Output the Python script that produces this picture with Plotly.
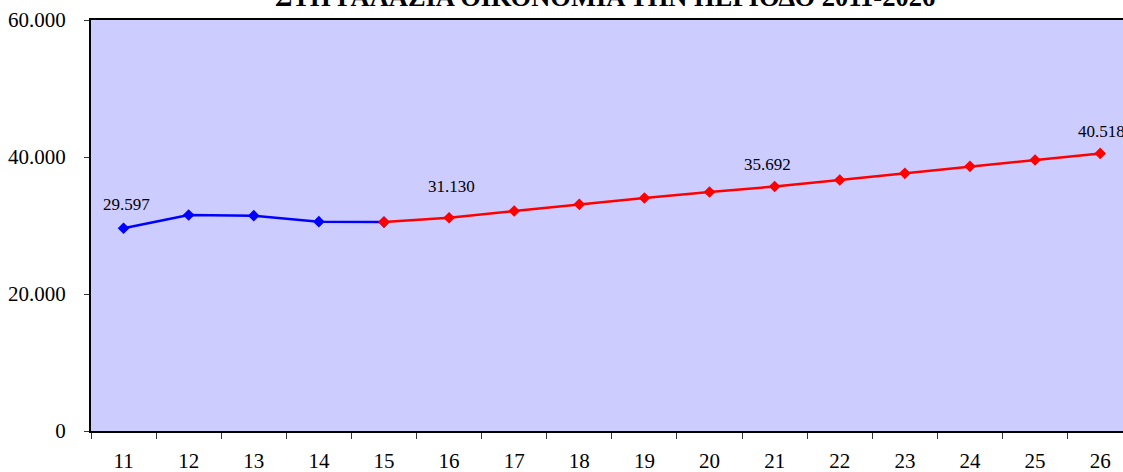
import plotly.graph_objects as go

years = ["11", "12", "13", "14", "15", "16", "17", "18", "19", "20", "21", "22", "23", "24", "25", "26"]
actual_years = ["11", "12", "13", "14", "15"]
actual_values = [29597, 31533, 31430, 30555, 30500]
forecast_years = ["15", "16", "17", "18", "19", "20", "21", "22", "23", "24", "25", "26"]
forecast_values = [30500, 31130, 32117, 33094, 34015, 34891, 35692, 36642, 37620, 38642, 39562, 40518]
labelled = [("11", 29597), ("16", 31130), ("21", 35692), ("26", 40518)]
y_ticks = [0, 20000, 40000, 60000]
title_text = "ΣΤΗ ΓΑΛΑΖΙΑ ΟΙΚΟΝΟΜΙΑ ΤΗΝ ΠΕΡΙΟΔΟ 2011-2026"

SERIF = "Liberation Serif, Times New Roman, serif"

fig = go.Figure()
fig.add_trace(go.Scatter(
    x=actual_years, y=actual_values, mode="lines+markers",
    line=dict(color="#0000FF", width=2.5),
    marker=dict(symbol="diamond", size=9, color="#0000FF"),
    showlegend=False, hoverinfo="skip"))
fig.add_trace(go.Scatter(
    x=forecast_years, y=forecast_values, mode="lines+markers",
    line=dict(color="#FF0000", width=2.5),
    marker=dict(symbol="diamond", size=9, color="#FF0000"),
    showlegend=False, hoverinfo="skip"))

def fmt(v):
    return f"{v:,}".replace(",", ".")

shifts = {"11": (3, 24), "16": (2, 31), "21": (-7, 22), "26": (1, 22)}
for yr, v in labelled:
    dx, dy = shifts[yr]
    fig.add_annotation(x=years.index(yr), y=v, xref="x", yref="y", text=fmt(v), showarrow=False,
                       xshift=dx, yshift=dy, font=dict(family=SERIF, size=17, color="black"))

fig.add_annotation(x=(605 - 91) / (1123 - 91), y=1, xref="paper", yref="paper",
                   xanchor="center", yanchor="bottom", yshift=6,
                   text="<b>" + title_text + "</b>", showarrow=False,
                   font=dict(family=SERIF, size=26.5, color="black"))

fig.update_layout(
    width=1123, height=472,
    margin=dict(l=91, r=0, t=20, b=41),
    paper_bgcolor="white", plot_bgcolor="#CCCCFF",
    separators=",.",
    font=dict(family=SERIF, size=20, color="black"),
    xaxis=dict(type="category", categoryarray=years, categoryorder="array",
               range=[-0.5, 15.35], showgrid=False, zeroline=False,
               showline=True, linecolor="black", linewidth=2, mirror=True,
               ticks="outside", ticklen=6, tickcolor="#333333", tickwidth=1,
               tickson="boundaries", tickfont=dict(family=SERIF, size=21),
               ticklabelstandoff=10),
    yaxis=dict(range=[0, 60000], tickvals=y_ticks, tickformat=",d",
               showgrid=False, zeroline=False,
               showline=True, linecolor="black", linewidth=2,
               ticks="outside", ticklen=5, tickcolor="#333333", tickwidth=1,
               tickfont=dict(family=SERIF, size=21), ticklabelstandoff=14),
)

fig.write_html("out.html", config={"displayModeBar": False},
               post_script="document.body.style.margin='0';document.body.style.overflow='hidden';")
